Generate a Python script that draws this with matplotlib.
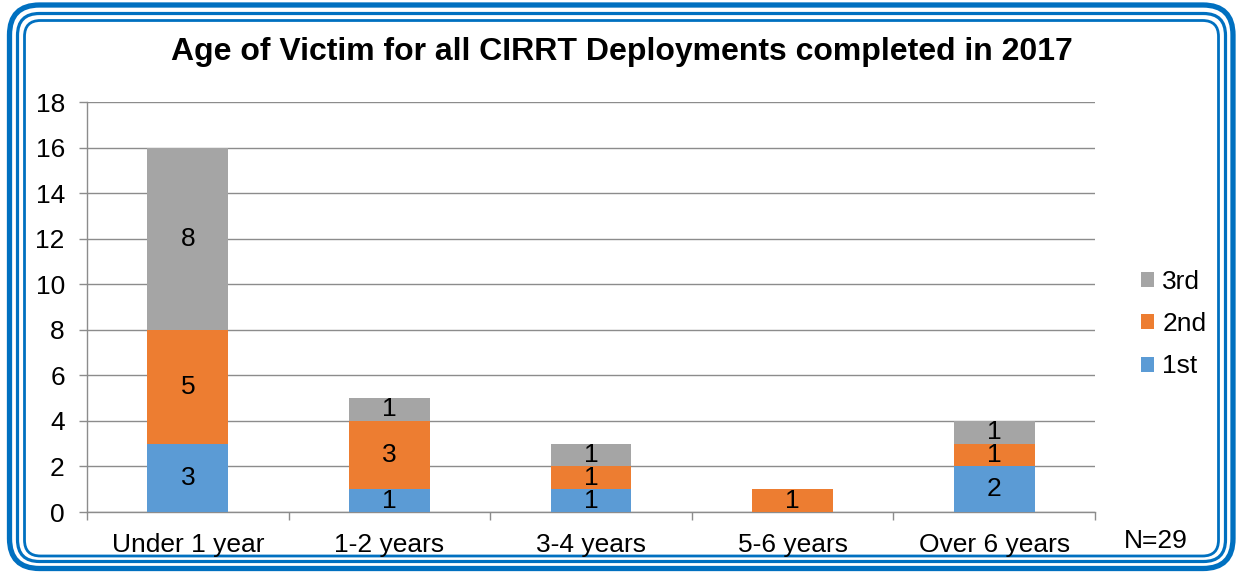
import matplotlib
matplotlib.use("Agg")
import matplotlib.pyplot as plt
from matplotlib.patches import FancyBboxPatch, Patch
import numpy as np

plt.rcParams['font.family'] = ['Liberation Sans', 'DejaVu Sans']

categories = ["Under 1 year", "1-2 years", "3-4 years", "5-6 years", "Over 6 years"]
first = [3, 1, 1, 0, 2]
second = [5, 3, 1, 1, 1]
third = [8, 1, 1, 0, 1]
series_names = ["1st", "2nd", "3rd"]
colors = ["#5B9BD5", "#ED7D31", "#A5A5A5"]
title = "Age of Victim for all CIRRT Deployments completed in 2017"
note = "N=29"

W, H = 1236, 579
fig = plt.figure(figsize=(W / 100, H / 100), dpi=100)

# border
bax = fig.add_axes([0, 0, 1, 1])
bax.set_xlim(0, W)
bax.set_ylim(H, 0)
bax.axis('off')
for (x0, y0, x1, y1, lw, r) in [(9.5, 5.0, 1233, 568.5, 3.8, 30),
                                 (17.5, 13.5, 1225.5, 561.5, 2.3, 22),
                                 (24.5, 20.5, 1218.5, 556.0, 2.0, 16)]:
    bax.add_patch(FancyBboxPatch((x0, y0), x1 - x0, y1 - y0,
                                 boxstyle=f"round,pad=0,rounding_size={r}",
                                 fill=False, edgecolor="#0070C0", linewidth=lw))

ax = fig.add_axes([87 / W, 1 - 512 / H, (1095 - 87) / W, (512 - 102) / H])
x = np.arange(len(categories))
bw = 0.4
data = [first, second, third]
bottom = np.zeros(len(categories))
for vals, name, c in zip(data, series_names, colors):
    vals = np.array(vals, dtype=float)
    ax.bar(x, vals, bw, bottom=bottom, color=c, label=name, zorder=3)
    for xi, v, bt in zip(x, vals, bottom):
        if v > 0:
            ax.text(xi, bt + v / 2, f"{int(v)}", ha='center', va='center',
                    fontsize=19, color='black', zorder=4)
    bottom += vals

ax.set_xlim(-0.5, len(categories) - 0.5)
ax.set_ylim(0, 18)
ax.set_yticks(range(0, 19, 2))
ax.grid(axis='y', color='#8C8C8C', linewidth=1.0, zorder=0)
ax.set_axisbelow(True)
for s in ['top', 'right']:
    ax.spines[s].set_visible(False)
for s in ['left', 'bottom']:
    ax.spines[s].set_color('#8C8C8C')
    ax.spines[s].set_linewidth(1.0)
ax.set_xticks(x)
ax.set_xticklabels(categories)
ax.set_xticks(np.arange(-0.5, len(categories)), minor=True)
ax.tick_params(axis='x', which='major', length=0, labelsize=19, pad=15)
ax.tick_params(axis='x', which='minor', length=6, color='#8C8C8C', width=1.0)
ax.tick_params(axis='y', length=6, color='#8C8C8C', width=1.0, labelsize=19, pad=10)

handles = [Patch(facecolor=colors[i], label=series_names[i]) for i in [2, 1, 0]]
fig.legend(handles=handles, loc='center left', bbox_to_anchor=(1128 / W, 1 - 324 / H),
           frameon=False, fontsize=19, handlelength=0.5, handleheight=0.5,
           handletextpad=0.3, labelspacing=0.7, borderpad=0)

fig.text(1124 / W, 1 - 541 / H, note, ha='left', va='center', fontsize=19)
fig.text(622 / W, 1 - 52 / H, title, ha='center', va='center', fontsize=23,
         fontweight='bold')

fig.savefig("out.png", dpi=100)
